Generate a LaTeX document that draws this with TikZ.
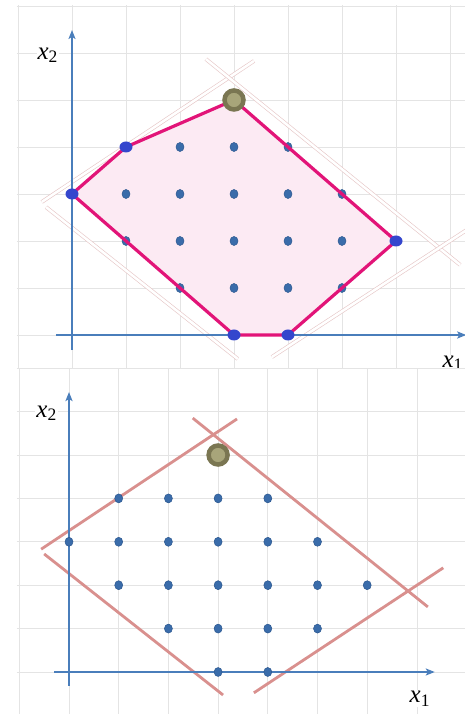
\documentclass[tikz,border=0pt]{standalone}
\usepackage{fontspec}
\setmainfont{Liberation Serif}
\usetikzlibrary{arrows.meta,shapes.geometric}

\definecolor{gridgray}{RGB}{228,228,228}
\definecolor{axisblue}{RGB}{74,126,187}
\definecolor{dotblue}{RGB}{58,108,170}
\definecolor{dotedge}{RGB}{42,86,142}
\definecolor{vertblue}{RGB}{52,70,205}
\definecolor{hullred}{RGB}{226,20,120}
\definecolor{hullfill}{RGB}{252,234,243}
\definecolor{cutpink}{RGB}{217,144,142}
\definecolor{cutpale}{RGB}{230,198,198}
\definecolor{oliveout}{RGB}{122,118,82}
\definecolor{olivein}{RGB}{168,165,122}

\begin{document}
\begin{tikzpicture}[
  x=1pt, y=1pt,
  gridline/.style={gridgray, line width=0.8pt},
  axis/.style={axisblue, line width=2.9pt, -{Stealth[length=9pt, width=7pt, inset=2pt]}},
  cutdbl/.style={cutpale, line width=0.6pt, double=white, double distance=2.6pt},
  cutline/.style={cutpink, line width=2.8pt},
  hull/.style={hullred, line width=3.2pt, line join=round},
  dot/.style={ellipse, fill=dotblue, draw=dotedge, line width=0.5pt, minimum width=8pt, minimum height=9pt, inner sep=0pt},
  vert/.style={ellipse, fill=vertblue, minimum width=13pt, minimum height=11pt, inner sep=0pt},
  best/.style={circle, fill=olivein, draw=oliveout, line width=4.5pt, minimum size=19pt, inner sep=0pt},
  lab/.style={fill=white, inner sep=1pt, font=\fontsize{25}{27}\selectfont}
]
  \useasboundingbox[fill=white] (0,0) rectangle (465,714);

  %% ── Top panel: relaxed region and its integer hull ─────────────────────────
  \begin{scope}
  \clip (0,346) rectangle (465,714);
  \begin{scope}[shift={(72pt,379pt)}, x=54pt, y=47pt]
    \foreach \i in {-1,...,7} \draw[gridline] (\i,-0.7) -- (\i,7.03);
    \foreach \j in {0,...,7} \draw[gridline] (-1.02,\j) -- (7.3,\j);

    % constraint lines (double strokes)
    \coordinate (ta1) at (-0.56,2.83); \coordinate (ta2) at (3.37,5.83);
    \coordinate (tb1) at (2.48,5.87);  \coordinate (tb2) at (7.19,1.49);
    \coordinate (tc1) at (-0.48,2.72); \coordinate (tc2) at (3.07,-0.51);
    \coordinate (td1) at (3.70,-0.47); \coordinate (td2) at (7.53,2.40);
    \draw[cutdbl] (ta1) -- (ta2);
    \draw[cutdbl] (tb1) -- (tb2);
    \draw[cutdbl] (tc1) -- (tc2);
    \draw[cutdbl] (td1) -- (td2);

    % axes
    \coordinate (txs) at (-0.3,0);  \coordinate (txe) at (7.3,0);
    \coordinate (tys) at (0,-0.32); \coordinate (tye) at (0,6.49);
    \draw[axis] (txs) -- (txe);
    \draw[axis] (tys) -- (tye);
    \node[lab] (tx2) at (-0.45,5.95) {\textit{x}\textsubscript{2}};
    \node[lab] (tx1) at (7.05,-0.6) {\textit{x}\textsubscript{1}};

    % hull vertices
    \coordinate (tv03) at (0,3); \coordinate (tv14) at (1,4);
    \coordinate (tv35) at (3,5); \coordinate (tv62) at (6,2);
    \coordinate (tv40) at (4,0); \coordinate (tv30) at (3,0);
    \fill[hullfill] (tv03) -- (tv14) -- (tv35) -- (tv62) -- (tv40) -- (tv30) -- cycle;

    \foreach \x/\y in {2/1,3/1,4/1,5/1, 1/2,2/2,3/2,4/2,5/2,
                       1/3,2/3,3/3,4/3,5/3, 2/4,3/4,4/4}
      \node[dot] (t\x\y) at (\x,\y) {};

    \draw[hull] (tv03) -- (tv14) -- (tv35) -- (tv62) -- (tv40) -- (tv30) -- cycle;

    \node[vert] (tp03) at (tv03) {};
    \node[vert] (tp14) at (tv14) {};
    \node[vert] (tp62) at (tv62) {};
    \node[vert] (tp40) at (tv40) {};
    \node[vert] (tp30) at (tv30) {};
    \node[best] (topt) at (tv35) {};
  \end{scope}
  \end{scope}

  %% ── Bottom panel: relaxed region with integer points ───────────────────────
  \begin{scope}[shift={(69pt,42pt)}, x=49.7pt, y=43.4pt]
    \foreach \i in {-1,...,8} \draw[gridline] (\i,-0.97) -- (\i,7.0);
    \foreach \j in {0,...,7} \draw[gridline] (-1.05,\j) -- (7.97,\j);

    % constraint lines
    \coordinate (ba1) at (-0.56,2.83); \coordinate (ba2) at (3.38,5.83);
    \coordinate (bb1) at (2.49,5.85);  \coordinate (bb2) at (7.22,1.50);
    \coordinate (bc1) at (-0.50,2.72); \coordinate (bc2) at (3.10,-0.53);
    \coordinate (bd1) at (3.72,-0.48); \coordinate (bd2) at (7.53,2.40);
    \draw[cutline] (ba1) -- (ba2);
    \draw[cutline] (bb1) -- (bb2);
    \draw[cutline] (bc1) -- (bc2);
    \draw[cutline] (bd1) -- (bd2);

    % axes
    \coordinate (bxs) at (-0.3,0);  \coordinate (bxe) at (7.36,0);
    \coordinate (bys) at (0,-0.32); \coordinate (bye) at (0,6.45);
    \draw[axis] (bxs) -- (bxe);
    \draw[axis] (bys) -- (bye);
    \node[lab] (bx2) at (-0.45,5.96) {\textit{x}\textsubscript{2}};
    \node[lab] (bx1) at (7.06,-0.61) {\textit{x}\textsubscript{1}};

    \foreach \x/\y in {3/0,4/0, 2/1,3/1,4/1,5/1, 1/2,2/2,3/2,4/2,5/2,6/2,
                       0/3,1/3,2/3,3/3,4/3,5/3, 1/4,2/4,3/4,4/4}
      \node[dot] (b\x\y) at (\x,\y) {};
    \node[best] (bopt) at (3,5) {};
  \end{scope}
\end{tikzpicture}
\end{document}
